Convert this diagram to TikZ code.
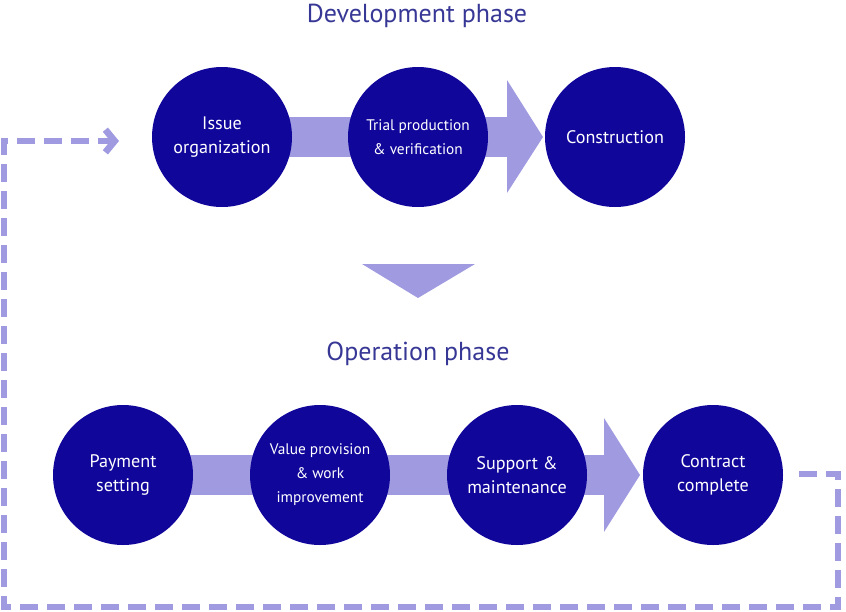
\documentclass[tikz,border=0pt]{standalone}
\usepackage{fontspec}
\setmainfont{PT Sans}
\usetikzlibrary{arrows.meta}
\definecolor{circ}{RGB}{16,6,154}
\definecolor{band}{RGB}{160,155,224}
\definecolor{ttl}{RGB}{55,55,150}
\begin{document}
\begin{tikzpicture}[x=0.75pt,y=-0.75pt,
  stage/.style={circle,fill=circ,minimum size=105pt,inner sep=0pt,text=white,align=center,font=\fontsize{13.6}{18}\selectfont},
  small/.style={font=\fontsize{11.5}{18}\selectfont},
  ttlnode/.style={text=ttl,font=\fontsize{19.5}{22}\selectfont},
  bandfill/.style={fill=band,draw=none},
  loop/.style={draw=band,line width=4.5pt,dash pattern=on 13.5pt off 6.75pt,line join=miter}]
\useasboundingbox (0,0) rectangle (846,611);
% titles
\node[ttlnode] (t1) at (417,16) {Development phase};
\node[ttlnode] (t2) at (418,354) {Operation phase};
% top band and arrowhead
\fill[band] (222,117) rectangle (507,157);
\fill[band] (507,80) -- (543,137) -- (507,193) -- cycle;
% bottom band and arrowhead
\fill[band] (123,455) rectangle (604,495);
\fill[band] (604,418) -- (640,475) -- (604,532) -- cycle;
% down triangle
\fill[band] (362,264) -- (475,264) -- (418,298) -- cycle;
% top circles
\node[stage] (io) at (222,137) {Issue\\organization};
\node[stage,small] (tp) at (418,137) {Trial production\\\& verification};
\node[stage] (co) at (615,137) {Construction};
% bottom circles
\node[stage] (ps) at (123,475) {Payment\\setting};
\node[stage,small] (vp) at (320,475) {Value provision\\\& work\\improvement};
\node[stage] (sm) at (517,475) {Support \&\\maintenance};
\node[stage] (cc) at (713,475) {Contract\\complete};
% dashed loop
\coordinate (c1) at (838,474);
\coordinate (c2) at (838,607);
\coordinate (c3) at (4,607);
\coordinate (c4) at (4,141);
\coordinate (c5) at (119,141);
\draw[loop,-{Straight Barb[length=7pt,width=17pt,line width=5pt]}] ([xshift=12pt]cc.east |- c1) -- (c1) -- (c2) -- (c3) -- (c4) -- (c5);
\end{tikzpicture}
\end{document}
